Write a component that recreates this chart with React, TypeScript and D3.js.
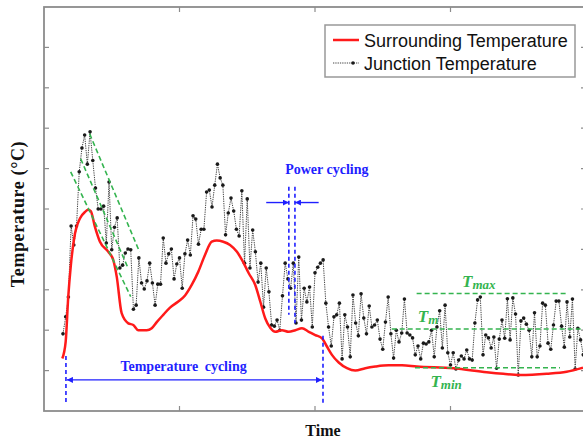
import React from "react";
import * as d3 from "d3";

// Junction temperature, sampled every 2 s starting at t = 14 s
const junctionStart = 14;
const junctionStep = 2;
const junctionTemp = [
  19.1, 23.3, 28.2, 45.8, 41.1, 45.8, 59.2, 65.1, 68.3, 61.1,
  69.1, 62.0, 55.2, 50.0, 50.0, 50.7, 41.6, 56.7, 39.9, 45.5,
  47.8, 35.4, 36.1, 39.1, 40.1, 39.9, 25.2, 26.2, 37.9, 31.7,
  30.2, 32.2, 36.6, 31.7, 26.2, 31.4, 31.4, 42.8, 36.6, 38.9,
  40.1, 32.7, 36.4, 37.9, 30.4, 38.9, 42.3, 38.6, 48.3, 47.5,
  41.3, 45.0, 45.0, 54.2, 54.7, 50.5, 55.9, 61.1, 57.7, 55.9,
  43.6, 49.0, 52.7, 49.5, 45.0, 43.3, 54.5, 36.6, 52.5, 35.4,
  44.8, 39.4, 31.9, 36.6, 25.7, 35.4, 29.5, 21.3, 21.0, 22.5,
  20.0, 28.5, 36.6, 32.7, 30.4, 36.6, 21.8, 38.1, 22.5, 30.4,
  27.0, 30.7, 20.8, 34.2, 35.6, 36.6, 37.4, 26.7, 20.8, 16.1,
  23.3, 23.8, 26.7, 12.9, 23.8, 20.8, 13.4, 28.7, 21.8, 18.6,
  29.0, 23.0, 19.1, 26.0, 20.8, 21.3, 22.5, 17.8, 15.3, 22.0,
  28.2, 19.1, 13.1, 20.0, 17.1, 19.3, 27.7, 19.3, 18.8, 18.1,
  13.9, 16.1, 12.9, 16.8, 16.6, 17.1, 20.0, 13.4, 20.8, 24.8,
  15.6, 26.2, 14.4, 11.4, 14.4, 10.4, 12.6, 13.6, 12.9, 15.1,
  12.9, 12.6, 21.8, 27.5, 28.2, 13.9, 18.8, 18.1, 15.6, 18.3,
  10.6, 17.8, 22.5, 18.0, 27.8, 17.6, 28.0, 24.0, 8.9, 22.3,
  23.0, 21.5, 20.0, 13.4, 24.3, 13.4, 16.1, 26.7, 26.2, 16.8,
  15.3, 21.3, 27.2, 27.2, 21.0, 15.8, 27.0, 18.3, 27.7, 10.4,
  20.5, 17.6, 13.9,
];

// Surrounding (ambient) temperature
const surroundTime = [
  13.5, 16.0, 17.9, 19.7, 22.9, 26.6, 30.3, 32.7, 34.5, 37.6,
  41.3, 47.5, 51.1, 53.7, 57.3, 62.2, 65.9, 69.6, 75.8, 79.5,
  83.2, 88.0, 93.0, 99.1, 104.1, 109.0, 113.9, 118.8, 123.8, 127.5,
  132.3, 137.3, 142.4, 146.1, 151.1, 155.9, 159.6, 163.3, 167.0, 170.7,
  175.6, 180.6, 185.5, 190.4, 195.4, 200.2, 205.2, 208.9, 212.5, 217.5,
  223.6, 229.7, 237.1, 244.5, 254.4, 264.2, 275.1, 302.1, 326.7, 339.0,
  351.3, 371.0, 385.7, 397.8,
];
const surroundTemp = [
  13.0, 17.2, 28.3, 35.7, 44.0, 47.7, 49.3, 49.8, 49.5, 45.6,
  41.9, 39.4, 37.4, 33.2, 24.2, 21.7, 21.3, 20.0, 20.0, 20.5,
  22.0, 23.8, 25.6, 27.1, 28.6, 31.2, 34.5, 38.6, 41.9, 42.2,
  41.9, 41.1, 39.4, 37.4, 34.1, 31.2, 27.1, 22.9, 20.6, 19.6,
  20.0, 19.6, 20.0, 20.5, 19.6, 18.8, 18.0, 15.9, 13.9, 12.0,
  10.6, 10.0, 10.6, 11.0, 11.3, 11.3, 11.0, 10.6, 9.6, 9.2,
  8.9, 9.2, 9.7, 10.7,
];

const timeTicks = [100, 200, 300];
const tempTicks = [10, 20, 30, 40, 50, 60, 70, 80, 90];

// Falling-edge guides: [t0, T0, t1, T1]
const slopeGuides = [
  [19.7, 59.2, 64.0, 28.3],
  [27.1, 62.4, 62.0, 35.4],
  [33.7, 68.6, 70.5, 39.4],
];

// Steady-state levels
const levelNames = ["max", "m", "min"];
const levelTemps = [29.1, 20.3, 10.7];
const levelStart = [275, 256.6, 273.8];
const levelEnd = [385.7, 400, 380.8];
const levelLabelAt = [
  [308.5, 30.6],
  [275.9, 22.1],
  [285.2, 6.0],
];

// Cycling spans
const tempCycle = [16.2, 205.9];
const powerCycle = [180.7, 185.2];

const W = 583;
const H = 438;
const GREEN = "#34b44f";
const BLUE = "#1f1fff";
const FRAME = "#8c8c8c";

export default function App() {
  const x = d3.scaleLinear().domain([0, 400]).range([44, 586]);
  const y = d3.scaleLinear().domain([0, 100]).range([411, 7]);

  const junction = junctionTemp.map((v, i) => [junctionStart + i * junctionStep, v] as [number, number]);
  const surround = surroundTime.map((t, i) => [t, surroundTemp[i]] as [number, number]);

  const lineGen = d3.line<[number, number]>().x((d) => x(d[0])).y((d) => y(d[1]));
  const smoothGen = d3
    .line<[number, number]>()
    .x((d) => x(d[0]))
    .y((d) => y(d[1]))
    .curve(d3.curveMonotoneX);

  const serif = "'Liberation Serif', 'Times New Roman', serif";
  const sans = "'Liberation Sans', Arial, sans-serif";

  return (
    <svg
      width={W}
      height={H}
      viewBox={`0 0 ${W} ${H}`}
      style={{ position: "absolute", left: 0, top: 0, background: "#fff" }}
    >
      <defs>
        <marker id="arrowBlue" viewBox="0 0 10 10" refX="10" refY="5" markerWidth="6" markerHeight="6" orient="auto-start-reverse" markerUnits="userSpaceOnUse">
          <path d="M0,0 L10,5 L0,10 z" fill={BLUE} />
        </marker>
      </defs>

      {/* frame */}
      <rect x={x(0)} y={y(100)} width={x(400) - x(0)} height={y(0) - y(100)} fill="none" stroke={FRAME} strokeWidth={1.8} />
      {tempTicks.map((t) => (
        <g key={`yt${t}`}>
          <line x1={x(0)} x2={x(0) + 5} y1={y(t)} y2={y(t)} stroke={FRAME} strokeWidth={1.2} />
          <line x1={x(400) - 5} x2={x(400)} y1={y(t)} y2={y(t)} stroke={FRAME} strokeWidth={1.2} />
        </g>
      ))}
      {timeTicks.map((t) => (
        <g key={`xt${t}`}>
          <line x1={x(t)} x2={x(t)} y1={y(0)} y2={y(0) - 5} stroke={FRAME} strokeWidth={1.2} />
          <line x1={x(t)} x2={x(t)} y1={y(100)} y2={y(100) + 5} stroke={FRAME} strokeWidth={1.2} />
        </g>
      ))}

      {/* junction temperature */}
      <path d={lineGen(junction) || ""} fill="none" stroke="#444" strokeWidth={1} strokeDasharray="1.3,1" />
      {junction.map((d, i) => (
        <circle key={`j${i}`} cx={x(d[0])} cy={y(d[1])} r={1.8} fill="#1a1a1a" />
      ))}

      {/* surrounding temperature */}
      <path d={smoothGen(surround) || ""} fill="none" stroke="#ff1a1a" strokeWidth={2.5} strokeLinejoin="round" />

      {/* falling-edge guides */}
      {slopeGuides.map((g, i) => (
        <line key={`sg${i}`} x1={x(g[0])} y1={y(g[1])} x2={x(g[2])} y2={y(g[3])} stroke={GREEN} strokeWidth={1.6} strokeDasharray="5,3" />
      ))}

      {/* steady-state levels */}
      {levelTemps.map((T, i) => (
        <g key={`lv${i}`}>
          <line x1={x(levelStart[i])} x2={x(levelEnd[i])} y1={y(T)} y2={y(T)} stroke={GREEN} strokeWidth={1.6} strokeDasharray="5,3" />
          <text x={x(levelLabelAt[i][0])} y={y(levelLabelAt[i][1])} fill={GREEN} fontFamily={serif} fontWeight="bold" fontStyle="italic" fontSize={17}>
            T<tspan fontSize={13} dy={2}>{levelNames[i]}</tspan>
          </text>
        </g>
      ))}

      {/* temperature cycling span */}
      {tempCycle.map((t, i) => (
        <line key={`tc${i}`} x1={x(t)} x2={x(t)} y1={y(i === 0 ? 13.6 : 18.6)} y2={y(2)} stroke={BLUE} strokeWidth={1.6} strokeDasharray="4,3" />
      ))}
      <line x1={x(tempCycle[0]) + 1} x2={x(tempCycle[1]) - 1} y1={y(7.7)} y2={y(7.7)} stroke={BLUE} strokeWidth={1.4} markerStart="url(#arrowBlue)" markerEnd="url(#arrowBlue)" />
      <text x={x(103)} y={y(10.0)} textAnchor="middle" fill={BLUE} fontFamily={serif} fontWeight="bold" fontSize={14} wordSpacing={3}>
        Temperature cycling
      </text>

      {/* power cycling span */}
      {powerCycle.map((t, i) => (
        <line key={`pc${i}`} x1={x(t)} x2={x(t)} y1={y(55.5)} y2={y(i === 0 ? 23.8 : 21.7)} stroke={BLUE} strokeWidth={1.6} strokeDasharray="4,3" />
      ))}
      <line x1={x(164)} x2={x(powerCycle[0])} y1={y(51.6)} y2={y(51.6)} stroke={BLUE} strokeWidth={1.4} markerEnd="url(#arrowBlue)" />
      <line x1={x(202.7)} x2={x(powerCycle[1])} y1={y(51.6)} y2={y(51.6)} stroke={BLUE} strokeWidth={1.4} markerEnd="url(#arrowBlue)" />
      <text x={x(178)} y={y(58.7)} fill={BLUE} fontFamily={serif} fontWeight="bold" fontSize={14}>
        Power cycling
      </text>

      {/* axis titles */}
      <text x={323} y={436} textAnchor="middle" fontFamily={serif} fontWeight="bold" fontSize={16} fill="#111">
        Time
      </text>
      <text transform="translate(24,214) rotate(-90)" textAnchor="middle" fontFamily={serif} fontWeight="bold" fontSize={18} letterSpacing={0.6} fill="#111">
        Temperature (°C)
      </text>

      {/* legend */}
      <g>
        <rect x={325} y={25} width={250} height={52} fill="#fff" stroke="#999" strokeWidth={1.5} />
        <line x1={333} x2={359} y1={40} y2={40} stroke="#ff1a1a" strokeWidth={2.5} />
        <text x={364} y={47} fontFamily={sans} fontSize={18} fill="#111">
          Surrounding Temperature
        </text>
        <line x1={333} x2={359} y1={63} y2={63} stroke="#444" strokeWidth={1} strokeDasharray="1.3,1" />
        <circle cx={353} cy={63} r={1.8} fill="#1a1a1a" />
        <text x={364} y={70} fontFamily={sans} fontSize={18} fill="#111">
          Junction Temperature
        </text>
      </g>
    </svg>
  );
}
